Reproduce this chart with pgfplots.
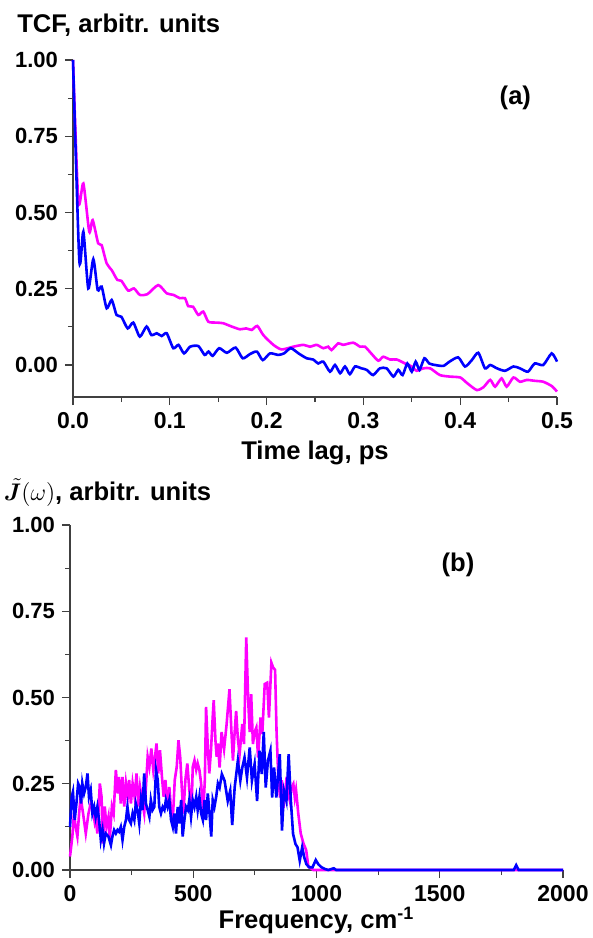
\documentclass[border=0pt]{standalone}
\usepackage{pgfplots}
\pgfplotsset{compat=1.18}
\usepackage{bm}
\usepackage{fontspec}
\setmainfont{Liberation Sans}
\definecolor{myblue}{RGB}{0,0,255}
\definecolor{mymag}{RGB}{255,0,255}
\pgfplotsset{
  common/.style={
    scale only axis,
    axis x line*=bottom, axis y line*=left,
    axis line style={-, line width=0.7pt, black!75},
    tick align=outside,
    major tick length=4pt, minor tick length=2.5pt,
    every tick/.style={black!75, line width=0.6pt},
    minor tick num=1,
    xticklabel style={font=\bfseries\fontsize{11.5}{13}\selectfont},
    yticklabel style={font=\bfseries\fontsize{11}{13}\selectfont},
    label style={font=\bfseries\fontsize{12.8}{15}\selectfont},
    /pgf/number format/assume math mode=true,
    /pgf/number format/1000 sep={},
    clip=false,
  }
}
\begin{document}
\begin{tikzpicture}
\path[use as bounding box] (0,0) rectangle (296.5pt,-469pt);
\begin{axis}[common,
  at={(36.5pt,-198.5pt)}, anchor=south west,
  width=242pt, height=168.5pt,
  xmin=0, xmax=0.5, ymin=-0.105, ymax=1.0,
  xtick={0,0.1,0.2,0.3,0.4,0.5},
  ytick={0,0.25,0.5,0.75,1.0},
  xticklabel style={/pgf/number format/.cd, fixed, fixed zerofill, precision=1},
  yticklabel style={/pgf/number format/.cd, fixed, fixed zerofill, precision=2},
  xlabel={Time lag, ps},
  xlabel style={at={(axis description cs:0.5,0)}, anchor=base, yshift=-31pt},
  ylabel={TCF, arbitr. units},
  ylabel style={rotate=-90, at={(axis description cs:-0.116,1.082)}, anchor=base west, inner sep=0pt},
]
\addplot[mymag, line width=1.3pt, smooth, tension=0.4] coordinates {
(0,1.0) (0.0055,0.535) (0.0107,0.595) (0.0168,0.437) (0.0203,0.475) (0.026,0.399) (0.0296,0.393) (0.0348,0.333) (0.04,0.311) (0.0458,0.279) (0.05,0.276) (0.057,0.244) (0.063,0.251) (0.069,0.230) (0.0768,0.232) (0.088,0.262) (0.0968,0.235) (0.1036,0.230) (0.1105,0.219) (0.1157,0.219) (0.119,0.193) (0.124,0.191) (0.1295,0.164) (0.1346,0.175) (0.1398,0.142) (0.148,0.139) (0.155,0.137) (0.164,0.126) (0.1725,0.117) (0.179,0.120) (0.1846,0.115) (0.1904,0.128) (0.1966,0.098) (0.207,0.066) (0.2156,0.051) (0.2276,0.060) (0.238,0.066) (0.2448,0.060) (0.2517,0.066) (0.2586,0.055) (0.2637,0.060) (0.267,0.049) (0.274,0.071) (0.279,0.066) (0.2895,0.073) (0.2965,0.060) (0.3016,0.060) (0.3086,0.036) (0.3154,0.014) (0.3205,0.027) (0.3275,0.018) (0.3344,0.018) (0.343,0.005) (0.350,-0.005) (0.355,-0.019) (0.362,-0.011) (0.369,-0.011) (0.379,-0.033) (0.389,-0.038) (0.40,-0.041) (0.4066,-0.058) (0.417,-0.082) (0.424,-0.073) (0.431,-0.049) (0.436,-0.071) (0.4428,-0.044) (0.448,-0.071) (0.455,-0.041) (0.4618,-0.055) (0.4687,-0.049) (0.4773,-0.052) (0.4858,-0.055) (0.4945,-0.069) (0.5,-0.087)
};
\addplot[myblue, line width=1.3pt, smooth, tension=0.4] coordinates {
(0,1.0) (0.0065,0.344) (0.0107,0.437) (0.0158,0.251) (0.021,0.347) (0.0255,0.246) (0.0296,0.257) (0.0348,0.186) (0.04,0.213) (0.045,0.164) (0.05,0.158) (0.0565,0.12) (0.0623,0.139) (0.069,0.093) (0.076,0.126) (0.081,0.098) (0.0865,0.104) (0.0916,0.095) (0.0968,0.104) (0.1036,0.055) (0.109,0.066) (0.1147,0.038) (0.121,0.060) (0.1295,0.062) (0.136,0.033) (0.140,0.044) (0.1443,0.030) (0.151,0.055) (0.159,0.040) (0.168,0.057) (0.1753,0.022) (0.183,0.036) (0.190,0.044) (0.196,0.016) (0.2035,0.038) (0.212,0.033) (0.218,0.038) (0.225,0.055) (0.233,0.038) (0.2414,0.022) (0.248,0.018) (0.2534,0.005) (0.2586,0.011) (0.2655,-0.022) (0.2707,0) (0.276,-0.027) (0.281,-0.005) (0.286,-0.030) (0.2913,-0.005) (0.298,-0.011) (0.3034,-0.016) (0.310,-0.033) (0.317,-0.011) (0.324,-0.011) (0.331,-0.038) (0.336,-0.016) (0.3405,-0.033) (0.3454,0.005) (0.35,-0.022) (0.354,0.011) (0.358,-0.016) (0.363,0.022) (0.368,0.005) (0.374,0) (0.3826,-0.003) (0.389,0.011) (0.398,0.025) (0.405,-0.005) (0.412,0.016) (0.4187,0.040) (0.4256,-0.011) (0.431,0) (0.438,-0.011) (0.4463,-0.019) (0.455,-0.005) (0.4618,-0.011) (0.470,-0.022) (0.477,0.005) (0.4858,0) (0.4945,0.038) (0.5,0.011)
};
\node[font=\bfseries\fontsize{12.8}{15}\selectfont] at (axis cs:0.457,0.875) {(a)};
\end{axis}

\begin{axis}[common,
  at={(35pt,-435pt)}, anchor=south west,
  width=246.5pt, height=172.5pt,
  xmin=0, xmax=2000, ymin=0, ymax=1.0,
  xtick={0,500,1000,1500,2000},
  ytick={0,0.25,0.5,0.75,1.0},
  yticklabel style={/pgf/number format/.cd, fixed, fixed zerofill, precision=2},
  xlabel={Frequency, cm\textsuperscript{-1}},
  xlabel style={at={(axis description cs:0.5,0)}, anchor=base, yshift=-29pt},
  ylabel={$\bm{\tilde{J}}(\omega)$, arbitr. units},
  ylabel style={rotate=-90, at={(axis description cs:-0.135,1.072)}, anchor=base west, inner sep=0pt},
]
\addplot[mymag, line width=1.3pt] coordinates {
(0,0.039)(9.5,0.097)(16,0.164)(23,0.125)(30,0.097)(37,0.164)(43,0.212)(53,0.164)(64,0.106)(75,0.164)(84,0.193)(91,0.184)(100,0.14)(104,0.154)(111,0.106)(121,0.251)(128,0.212)(133,0.077)(141,0.184)(148,0.125)(156,0.154)(161,0.087)(170,0.184)(177,0.164)(186,0.29)(194,0.222)(199,0.27)(206,0.193)(213,0.27)(220,0.184)(227,0.251)(234,0.212)(240,0.261)(247,0.193)(254,0.251)(262,0.212)(270,0.28)(277,0.184)(284,0.241)(292,0.203)(301,0.164)(308,0.241)(315,0.328)(322,0.299)(330,0.352)(338,0.29)(345,0.328)(351,0.367)(358,0.28)(365,0.347)(373,0.27)(380,0.212)(387,0.261)(396,0.184)(403,0.241)(411,0.164)(417,0.145)(425,0.261)(433,0.299)(440,0.376)(447,0.328)(454,0.232)(460,0.164)(468,0.261)(476,0.309)(484,0.232)(493,0.174)(498,0.299)(505,0.318)(512,0.29)(518,0.309)(525,0.29)(532,0.251)(536,0.203)(541,0.174)(547,0.261)(552,0.473)(559,0.357)(565,0.28)(572,0.347)(579,0.444)(583,0.492)(590,0.376)(595,0.328)(600,0.367)(607,0.297)(615,0.40)(625,0.35)(635,0.42)(647,0.524)(655,0.40)(661,0.317)(668,0.40)(674,0.461)(681,0.38)(688,0.336)(699,0.423)(706,0.365)(715,0.674)(723,0.49)(729,0.40)(735,0.51)(742,0.365)(749,0.40)(756,0.413)(763,0.326)(773,0.442)(780,0.394)(790,0.539)(800,0.543)(807,0.442)(817,0.601)(824,0.587)(832,0.58)(838,0.40)(845,0.27)(852,0.21)(859,0.26)(866,0.18)(872,0.22)(879,0.27)(886,0.22)(892,0.20)(899,0.24)(906,0.25)(912,0.21)(917,0.232)(926,0.164)(936,0.106)(947,0.077)(958,0.058)(967,0.01)(987,0)(1014,0)(2000,0)
};
\addplot[myblue, line width=1.3pt] coordinates {
(0,0.125)(7,0.212)(12,0.227)(19,0.145)(26,0.193)(33,0.251)(39,0.241)(45,0.193)(50,0.251)(57,0.222)(64,0.241)(71,0.28)(77,0.212)(84,0.232)(91,0.164)(98,0.183)(104,0.154)(111,0.183)(118,0.145)(125,0.087)(132,0.116)(138,0.077)(145,0.106)(156,0.097)(166,0.072)(172,0.097)(179,0.116)(186,0.106)(193,0.116)(199,0.111)(206,0.125)(213,0.087)(220,0.125)(227,0.145)(233,0.183)(240,0.145)(247,0.135)(254,0.164)(261,0.145)(267,0.193)(274,0.174)(281,0.135)(288,0.203)(294,0.174)(301,0.28)(308,0.193)(315,0.174)(322,0.154)(328,0.203)(335,0.174)(342,0.183)(349,0.29)(356,0.261)(362,0.183)(369,0.164)(376,0.183)(383,0.174)(389,0.203)(396,0.183)(403,0.203)(410,0.145)(417,0.125)(423,0.164)(430,0.106)(437,0.183)(444,0.135)(451,0.203)(457,0.097)(464,0.145)(471,0.183)(478,0.174)(484,0.203)(491,0.154)(498,0.203)(505,0.183)(512,0.212)(518,0.174)(525,0.212)(532,0.164)(539,0.145)(546,0.203)(552,0.145)(559,0.222)(566,0.164)(573,0.097)(579,0.203)(586,0.183)(593,0.212)(600,0.251)(607,0.239)(616,0.278)(627,0.259)(640,0.2)(650,0.23)(658,0.13)(668,0.239)(681,0.317)(691,0.259)(699,0.297)(708,0.326)(718,0.268)(729,0.355)(738,0.259)(749,0.307)(759,0.2)(769,0.346)(778,0.278)(786,0.40)(794,0.239)(803,0.317)(813,0.346)(820,0.21)(828,0.297)(837,0.21)(851,0.336)(860,0.114)(868,0.23)(878,0.2)(887,0.336)(896,0.2)(905,0.104)(915,0.075)(923,0.066)(932,0.027)(942,0.066)(950,0.037)(959,0.017)(970,0.008)(984,0.008)(997,0.029)(1007,0.017)(1020,0.008)(1034,0.003)(1048,0)(1070,0.005)(1080,0)(1800,0)(1810,0.014)(1820,0)(2000,0)
};
\node[font=\bfseries\fontsize{12.8}{15}\selectfont] at (axis cs:1574,0.883) {(b)};
\end{axis}
\end{tikzpicture}
\end{document}
